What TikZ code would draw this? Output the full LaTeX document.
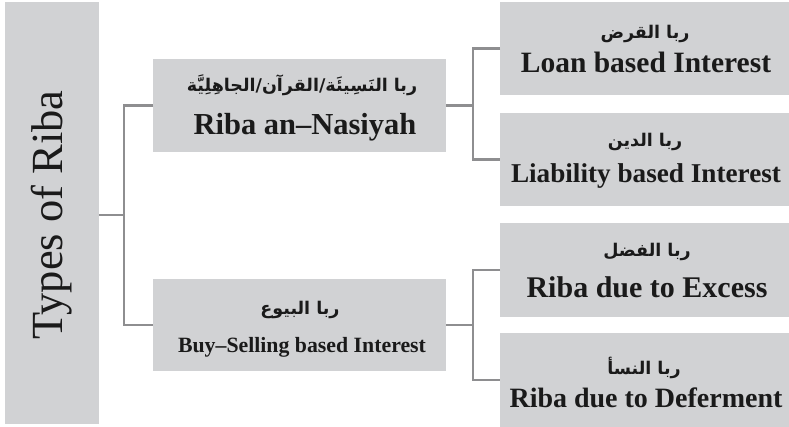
\documentclass[tikz,border=0pt]{standalone}
\usepackage{fontspec}
\setmainfont{Liberation Serif}
\newfontfamily\arabicfont[Script=Arabic]{DejaVu Sans}
\TeXXeTstate=1
\definecolor{boxgray}{HTML}{D1D2D4}
\definecolor{linegray}{HTML}{8E8E90}
\definecolor{textdark}{HTML}{1A1A1A}
\newcommand{\enfs}[1]{\bfseries\fontsize{#1}{#1}\selectfont}
\begin{document}
\begin{tikzpicture}[x=1pt,y=-1pt,
  box/.style={fill=boxgray,draw=none,inner sep=0pt,outer sep=0pt,anchor=north west},
  conn/.style={draw=linegray,line width=2.2pt},
  en/.style={text=textdark,anchor=base,inner sep=0pt},
  ar/.style={text=textdark,font=\arabicfont\bfseries\fontsize{17.5}{20}\selectfont,inner sep=0pt}]
\useasboundingbox (0,0) rectangle (789,427);
% boxes
\node[box,minimum width=94pt,minimum height=422pt] (L) at (5,2) {};
\node[box,minimum width=293pt,minimum height=93pt] (M1) at (153,59) {};
\node[box,minimum width=293pt,minimum height=92pt] (M2) at (153,279) {};
\node[box,minimum width=289pt,minimum height=93pt] (R1) at (500,2) {};
\node[box,minimum width=289pt,minimum height=93pt] (R2) at (500,113) {};
\node[box,minimum width=289pt,minimum height=94pt] (R3) at (500,223) {};
\node[box,minimum width=289pt,minimum height=94pt] (R4) at (500,333) {};
% connectors
\coordinate (j1) at (124,215);
\draw[conn] (L.east |- j1) -- (j1);
\draw[conn] (M1.west) -| (j1) |- (M2.west);
\draw[conn] (M1.east) -- ++(27,0) coordinate (j2);
\draw[conn] (R1.west) -| (j2) |- (R2.west);
\draw[conn] (M2.east) -- ++(27,0) coordinate (j3);
\draw[conn] (R3.west) -| (j3) |- (R4.west);
% labels
\node[text=textdark,rotate=90,inner sep=0pt,font=\fontsize{44.5}{48}\selectfont] (tL) at (52,215) {Types of Riba};
\node[ar] (aM1) at (302,85) {\beginR ربا النَسِيئَة/القرآن/الجاهِلِيَّة\endR};
\node[en,font=\enfs{30.5}] (eM1) at (305,135) {Riba an–Nasiyah};
\node[ar] (aM2) at (300,310) {\beginR ربا البيوع\endR};
\node[en,font=\enfs{21.8}] (eM2) at (302,352) {Buy–Selling based Interest};
\node[ar] (aR1) at (645,34) {\beginR ربا القرض\endR};
\node[en,font=\enfs{29.5}] (eR1) at (646,73) {Loan based Interest};
\node[ar] (aR2) at (645,142) {\beginR ربا الدين\endR};
\node[en,font=\enfs{27.2}] (eR2) at (646,183) {Liability based Interest};
\node[ar] (aR3) at (647,252) {\beginR ربا الفضل\endR};
\node[en,font=\enfs{30}] (eR3) at (647,298) {Riba due to Excess};
\node[ar] (aR4) at (644,368) {\beginR ربا النسأ\endR};
\node[en,font=\enfs{28}] (eR4) at (646,407) {Riba due to Deferment};
\end{tikzpicture}
\end{document}
